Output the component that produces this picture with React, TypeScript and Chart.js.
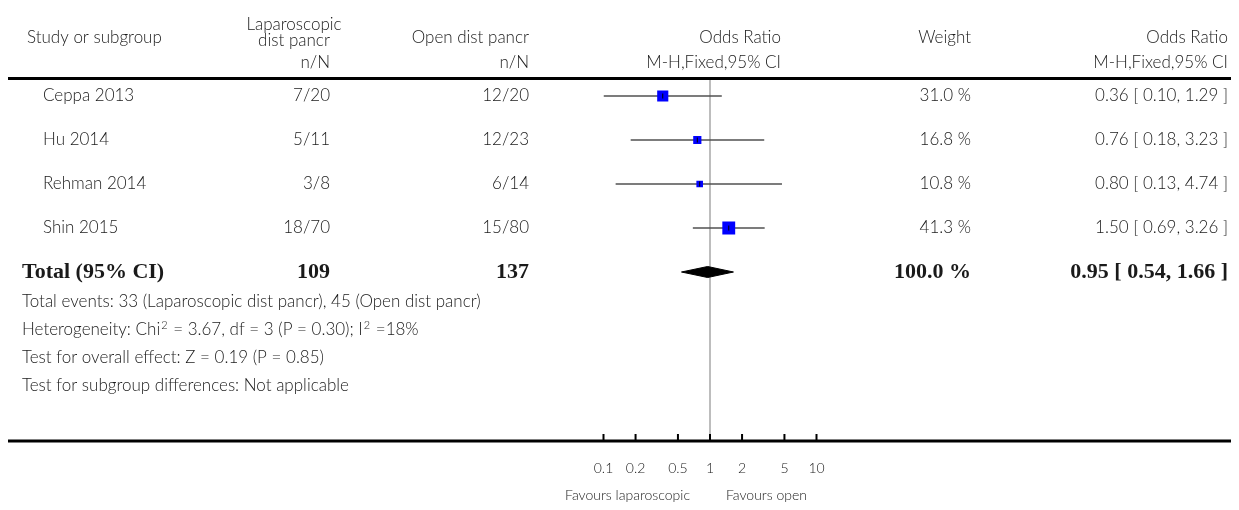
import { useEffect, useRef } from "react";
import { Chart, registerables } from "chart.js";

Chart.register(...registerables);

// ---------- data ----------
const studies = ["Ceppa 2013", "Hu 2014", "Rehman 2014", "Shin 2015"];
const lapEvents = ["7/20", "5/11", "3/8", "18/70"];
const openEvents = ["12/20", "12/23", "6/14", "15/80"];
const oddsRatios = [0.36, 0.76, 0.8, 1.5];
const ciLow = [0.1, 0.18, 0.13, 0.69];
const ciHigh = [1.29, 3.23, 4.74, 3.26];
const weights = [31.0, 16.8, 10.8, 41.3];

const totalLabel = "Total (95% CI)";
const totalLap = "109";
const totalOpen = "137";
const totalOR = 0.95;
const totalLow = 0.54;
const totalHigh = 1.66;
const totalWeight = 100.0;

// "^2" marks a superscript 2
const footerLines = [
  "Total events: 33 (Laparoscopic dist pancr), 45 (Open dist pancr)",
  "Heterogeneity: Chi^2 = 3.67, df = 3 (P = 0.30); I^2 =18%",
  "Test for overall effect: Z = 0.19 (P = 0.85)",
  "Test for subgroup differences: Not applicable",
];

const xTicks = [0.1, 0.2, 0.5, 1, 2, 5, 10];
const favoursLeft = "Favours laparoscopic";
const favoursRight = "Favours open";

// ---------- layout / style ----------
const W = 1239;
const H = 510;
const PLOT_LEFT = 603.5;
const PLOT_RIGHT = 816.5;
const PLOT_TOP = 80;
const PLOT_BOTTOM = 441;
const X_AXIS_H = 45;
const ROW_PX = 44;
const FIRST_ROW_OFFSET = 16;
const Y_MIN = 1 - FIRST_ROW_OFFSET / ROW_PX;
const Y_MAX = Y_MIN + (PLOT_BOTTOM - PLOT_TOP) / ROW_PX;
const TOTAL_ROW = studies.length + 1;

const FAMILY = "Lato, 'Open Sans', sans-serif";
const FONT = `300 17px ${FAMILY}`;
const SUP_FONT = `300 11px ${FAMILY}`;
const SMALL_FONT = `300 14px ${FAMILY}`;
const BOLD_FONT = "bold 22px 'Liberation Serif', 'DejaVu Serif', serif";
const TEXT = "#1a1a1a";

const fmtOR = (v: number, lo: number, hi: number) =>
  `${v.toFixed(2)} [ ${lo.toFixed(2)}, ${hi.toFixed(2)} ]`;
const fmtW = (w: number) => `${w.toFixed(1)} %`;

const tablePlugin = {
  id: "forestTable",
  afterDraw(chart: any) {
    const { ctx, chartArea } = chart;
    const x = chart.scales.x;
    const y = chart.scales.y;
    ctx.save();

    // horizontal rules
    ctx.fillStyle = "#000";
    ctx.fillRect(8, chartArea.top - 3, W - 16, 3);
    ctx.fillRect(8, chartArea.bottom - 1.5, W - 16, 3);
    // upward tick marks
    xTicks.forEach((t) => {
      const px = x.getPixelForValue(t);
      ctx.fillRect(px - 1, chartArea.bottom - 7, 2, 7);
    });

    const text = (s: string, px: number, py: number, align: CanvasTextAlign, font = FONT) => {
      ctx.font = font;
      ctx.textAlign = align;
      ctx.textBaseline = "middle";
      ctx.fillStyle = TEXT;
      ctx.fillText(s, px, py);
    };

    // text with ^2 superscripts, left aligned
    const richText = (s: string, px: number, py: number) => {
      const parts = s.split("^2");
      let cx = px;
      ctx.textAlign = "left";
      ctx.textBaseline = "middle";
      ctx.fillStyle = TEXT;
      parts.forEach((p, i) => {
        ctx.font = FONT;
        ctx.fillText(p, cx, py);
        cx += ctx.measureText(p).width;
        if (i < parts.length - 1) {
          ctx.font = SUP_FONT;
          ctx.fillText("2", cx + 1, py - 5);
          cx += ctx.measureText("2").width + 2;
        }
      });
    };

    // header
    text("Study or subgroup", 27, 38, "left");
    text("Laparoscopic", 294, 25, "center");
    text("dist pancr", 294, 41, "center");
    text("n/N", 330, 63, "right");
    text("Open dist pancr", 529, 38, "right");
    text("n/N", 529, 63, "right");
    text("Odds Ratio", 781, 38, "right");
    text("M-H,Fixed,95% CI", 781, 63, "right");
    text("Weight", 971, 38, "right");
    text("Odds Ratio", 1228, 38, "right");
    text("M-H,Fixed,95% CI", 1228, 63, "right");

    // study rows
    studies.forEach((s, i) => {
      const py = y.getPixelForValue(i + 1);
      text(s, 43, py, "left");
      text(lapEvents[i], 330, py, "right");
      text(openEvents[i], 529, py, "right");
      text(fmtW(weights[i]), 971, py, "right");
      text(fmtOR(oddsRatios[i], ciLow[i], ciHigh[i]), 1228, py, "right");
    });

    // total row
    const ty = y.getPixelForValue(TOTAL_ROW);
    text(totalLabel, 22, ty, "left", BOLD_FONT);
    text(totalLap, 330, ty, "right", BOLD_FONT);
    text(totalOpen, 529, ty, "right", BOLD_FONT);
    text(fmtW(totalWeight), 971, ty, "right", BOLD_FONT);
    text(fmtOR(totalOR, totalLow, totalHigh), 1228, ty, "right", BOLD_FONT);

    // footer
    footerLines.forEach((s, i) => {
      richText(s, 22, ty + 30 + i * 28);
    });

    // favours labels
    const one = x.getPixelForValue(1);
    text(favoursLeft, one - 20, 495, "right", SMALL_FONT);
    text(favoursRight, one + 16, 495, "left", SMALL_FONT);

    ctx.restore();
  },
};

export default function App() {
  const ref = useRef<HTMLCanvasElement | null>(null);

  useEffect(() => {
    if (!ref.current) return;

    const ciSets = studies.map((_, i) => ({
      type: "line" as const,
      data: [
        { x: ciLow[i], y: i + 1 },
        { x: ciHigh[i], y: i + 1 },
      ],
      borderColor: "#505050",
      borderWidth: 1.7,
      pointRadius: 0,
      order: 5,
    }));

    const pts = oddsRatios.map((v, i) => ({ x: v, y: i + 1 }));

    const chart = new Chart(ref.current, {
      type: "line",
      data: {
        datasets: [
          {
            data: pts,
            showLine: false,
            pointStyle: "line",
            pointRotation: 90,
            pointRadius: 2.5,
            pointBorderColor: "#000",
            pointBorderWidth: 1,
            order: 0,
          } as any,
          {
            data: pts,
            showLine: false,
            pointStyle: "rect",
            pointRadius: weights.map((w) => (2 * Math.sqrt(w)) / Math.SQRT2),
            pointBackgroundColor: "#0000ff",
            pointBorderColor: "#0000ff",
            pointBorderWidth: 0,
            order: 1,
          } as any,
          {
            data: [
              { x: totalLow, y: TOTAL_ROW },
              { x: totalOR, y: TOTAL_ROW - 0.125 },
              { x: totalHigh, y: TOTAL_ROW },
              { x: totalOR, y: TOTAL_ROW + 0.125 },
              { x: totalLow, y: TOTAL_ROW },
            ],
            borderColor: "#000",
            backgroundColor: "#000",
            borderWidth: 1,
            fill: "shape",
            pointRadius: 0,
            tension: 0,
            order: 2,
          } as any,
          ...ciSets,
          {
            data: [
              { x: 1, y: Y_MIN },
              { x: 1, y: Y_MAX },
            ],
            borderColor: "#bdbdbd",
            borderWidth: 2,
            pointRadius: 0,
            order: 10,
          },
        ],
      },
      options: {
        responsive: false,
        animation: false,
        events: [],
        devicePixelRatio: 1,
        layout: {
          padding: {
            left: PLOT_LEFT,
            right: W - PLOT_RIGHT,
            top: PLOT_TOP,
            bottom: H - PLOT_BOTTOM - X_AXIS_H,
          },
        },
        plugins: {
          legend: { display: false },
          tooltip: { enabled: false },
        },
        scales: {
          x: {
            type: "logarithmic",
            min: xTicks[0],
            max: xTicks[xTicks.length - 1],
            afterBuildTicks: (scale: any) => {
              scale.ticks = xTicks.map((v) => ({ value: v }));
            },
            afterFit: (scale: any) => {
              scale.height = X_AXIS_H;
            },
            grid: { display: false, drawTicks: false },
            border: { display: false },
            ticks: {
              autoSkip: false,
              maxRotation: 0,
              padding: 19,
              color: TEXT,
              font: { family: FAMILY, size: 14, weight: "300" },
              callback: (v: any) => String(v),
            },
          },
          y: {
            type: "linear",
            reverse: true,
            min: Y_MIN,
            max: Y_MAX,
            display: false,
          },
        },
      },
      plugins: [tablePlugin],
    } as any);

    return () => chart.destroy();
  }, []);

  return (
    <canvas
      ref={ref}
      width={W}
      height={H}
      style={{ position: "fixed", left: 0, top: 0, width: W, height: H, background: "#fff" }}
    />
  );
}
